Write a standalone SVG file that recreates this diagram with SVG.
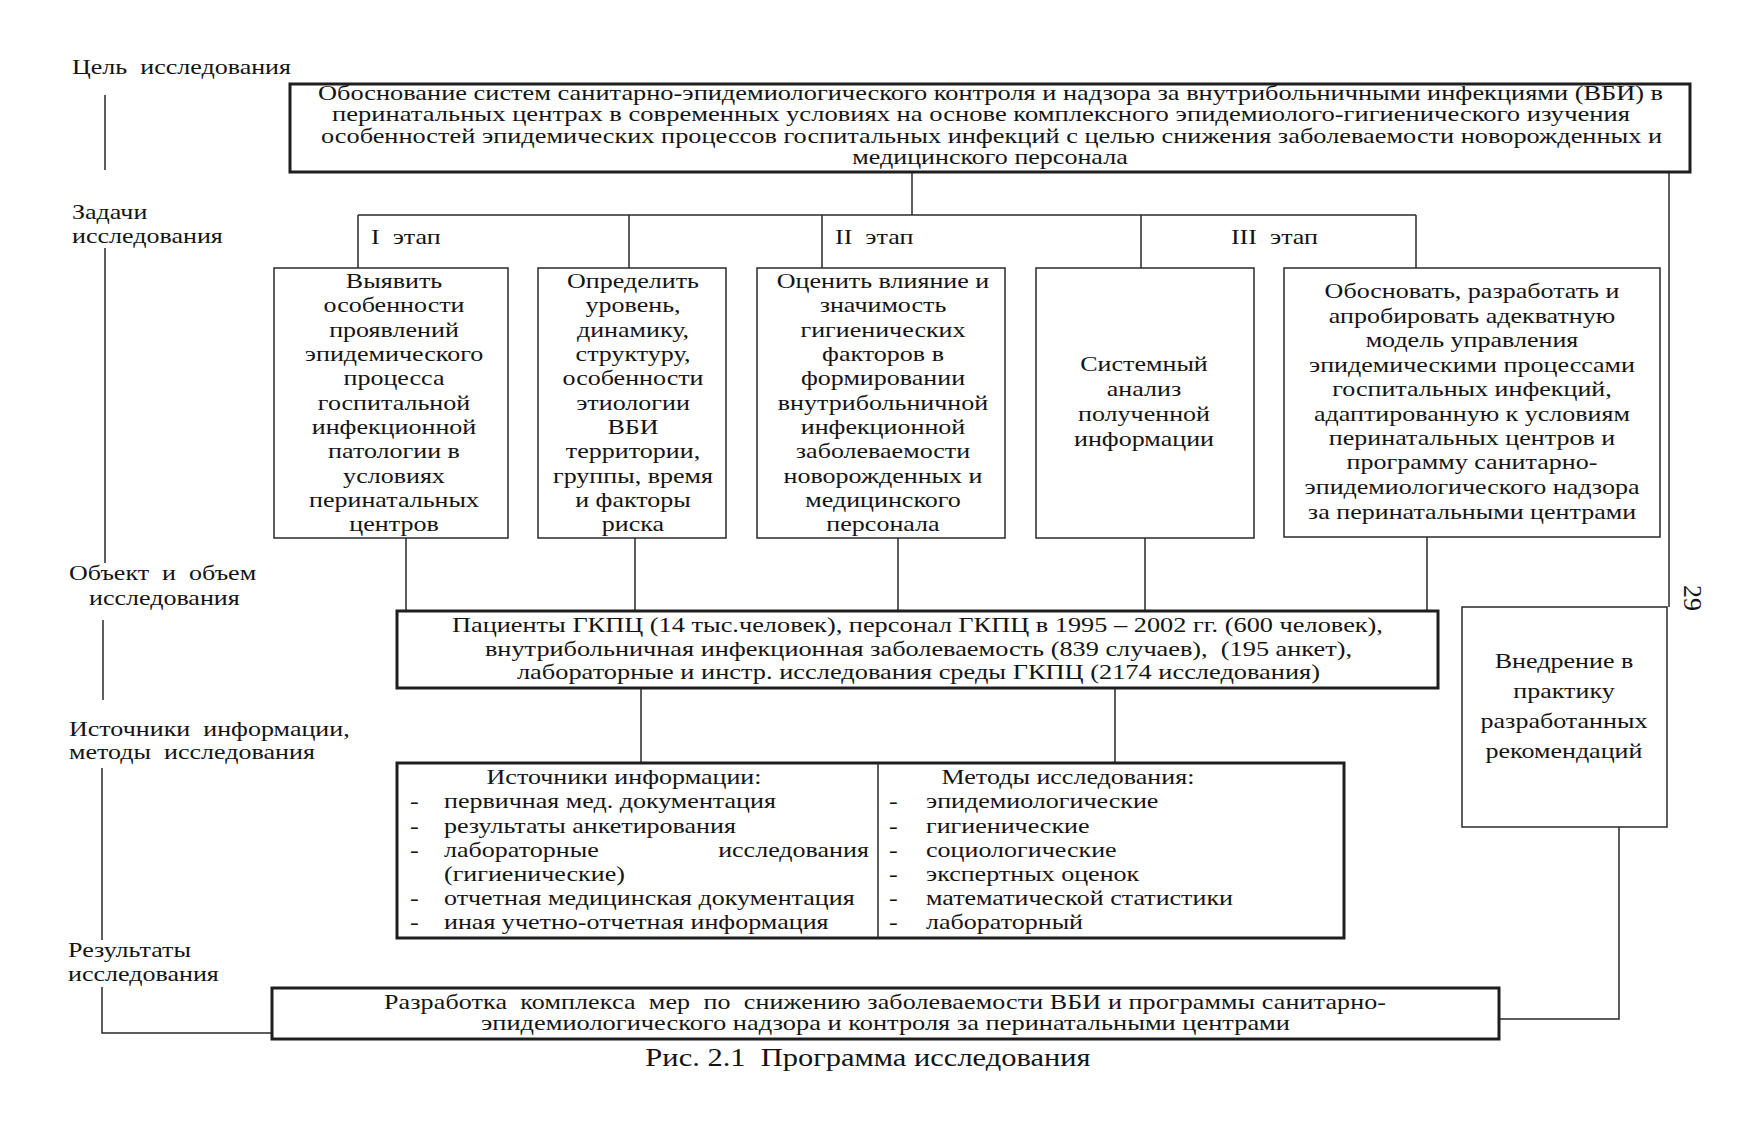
<svg xmlns="http://www.w3.org/2000/svg" width="1739" height="1125" viewBox="0 0 1739 1125">
<style>
.t{font-family:"Liberation Serif","Times New Roman",serif;font-size:21px;fill:#141414;white-space:pre}
.m{text-anchor:middle}
.e{text-anchor:end}
.thick{fill:none;stroke:#1e1e1e;stroke-width:3}
.thin{fill:none;stroke:#2a2a2a;stroke-width:1.5}
.ln{fill:none;stroke:#2a2a2a;stroke-width:1.5}
</style>
<rect width="1739" height="1125" fill="#ffffff"/>

<g id="labels">
  <g transform="translate(72,0) scale(1.24,1)">
    <text class="t" x="0" y="74">Цель  исследования</text>
    <text class="t" x="0" y="219">Задачи</text>
    <text class="t" x="0" y="243">исследования</text>
  </g>
  <g transform="translate(69,0) scale(1.24,1)">
    <text class="t" x="0" y="580">Объект  и  объем</text>
    <text class="t" x="16.1" y="605">исследования</text>
    <text class="t" x="0" y="736">Источники  информации,</text>
    <text class="t" x="0" y="759">методы  исследования</text>
    <text class="t" x="-0.8" y="957">Результаты</text>
    <text class="t" x="-0.8" y="981">исследования</text>
  </g>
  <g transform="scale(1.24,1)">
    <text class="t" x="299.2" y="244">I  этап</text>
    <text class="t" x="673.4" y="244">II  этап</text>
    <text class="t" x="992.7" y="244">III  этап</text>
  </g>
</g>

<g id="connectors">
  <path class="ln" d="M105 95V170M105 248V563M103 620V700M102 768V940M102 987V1033H272"/>
  <path class="ln" d="M912 172V215M358 215H1416M358 215V268M629 215V268M822 215V268M1141 215V268M1416 215V268"/>
  <path class="ln" d="M1669 172V607"/>
  <path class="ln" d="M406 538V612M635 538V612M898 538V612M1145 538V612M1427 537V612"/>
  <path class="ln" d="M641 688V762M1115 688V762"/>
  <path class="ln" d="M1619 827V1019H1499"/>
</g>

<g id="goal">
  <rect class="thick" x="290" y="84" width="1400" height="88"/>
  <g transform="scale(1.24,1)">
    <text class="t m" x="798.8" y="100" textLength="1084.7" lengthAdjust="spacingAndGlyphs">Обоснование систем санитарно-эпидемиологического контроля и надзора за внутрибольничными инфекциями (ВБИ) в</text>
    <text class="t m" x="791.1" y="121" textLength="1046.8" lengthAdjust="spacingAndGlyphs">перинатальных центрах в современных условиях на основе комплексного эпидемиолого-гигиенического изучения</text>
    <text class="t m" x="799.6" y="143" textLength="1081.5" lengthAdjust="spacingAndGlyphs">особенностей эпидемических процессов госпитальных инфекций с целью снижения заболеваемости новорожденных и</text>
    <text class="t m" x="798.4" y="164">медицинского персонала</text>
  </g>
</g>

<g id="task1">
  <rect class="thin" x="274" y="268" width="234" height="270"/>
  <g transform="translate(394,0) scale(1.24,1)">
    <text class="t m" x="0" y="288">Выявить</text>
    <text class="t m" x="0" y="312">особенности</text>
    <text class="t m" x="0" y="337">проявлений</text>
    <text class="t m" x="0" y="361">эпидемического</text>
    <text class="t m" x="0" y="385">процесса</text>
    <text class="t m" x="0" y="410">госпитальной</text>
    <text class="t m" x="0" y="434">инфекционной</text>
    <text class="t m" x="0" y="458">патологии в</text>
    <text class="t m" x="0" y="483">условиях</text>
    <text class="t m" x="0" y="507">перинатальных</text>
    <text class="t m" x="0" y="531">центров</text>
  </g>
</g>

<g id="task2">
  <rect class="thin" x="538" y="268" width="188" height="270"/>
  <g transform="translate(633,0) scale(1.24,1)">
    <text class="t m" x="0" y="288">Определить</text>
    <text class="t m" x="0" y="312">уровень,</text>
    <text class="t m" x="0" y="337">динамику,</text>
    <text class="t m" x="0" y="361">структуру,</text>
    <text class="t m" x="0" y="385">особенности</text>
    <text class="t m" x="0" y="410">этиологии</text>
    <text class="t m" x="0" y="434">ВБИ</text>
    <text class="t m" x="0" y="458">территории,</text>
    <text class="t m" x="0" y="483">группы, время</text>
    <text class="t m" x="0" y="507">и факторы</text>
    <text class="t m" x="0" y="531">риска</text>
  </g>
</g>

<g id="task3">
  <rect class="thin" x="757" y="268" width="248" height="270"/>
  <g transform="translate(883,0) scale(1.24,1)">
    <text class="t m" x="0" y="288">Оценить влияние и</text>
    <text class="t m" x="0" y="312">значимость</text>
    <text class="t m" x="0" y="337">гигиенических</text>
    <text class="t m" x="0" y="361">факторов в</text>
    <text class="t m" x="0" y="385">формировании</text>
    <text class="t m" x="0" y="410">внутрибольничной</text>
    <text class="t m" x="0" y="434">инфекционной</text>
    <text class="t m" x="0" y="458">заболеваемости</text>
    <text class="t m" x="0" y="483">новорожденных и</text>
    <text class="t m" x="0" y="507">медицинского</text>
    <text class="t m" x="0" y="531">персонала</text>
  </g>
</g>

<g id="task4">
  <rect class="thin" x="1036" y="268" width="218" height="270"/>
  <g transform="translate(1144,0) scale(1.24,1)">
    <text class="t m" x="0" y="371">Системный</text>
    <text class="t m" x="0" y="396">анализ</text>
    <text class="t m" x="0" y="421">полученной</text>
    <text class="t m" x="0" y="446">информации</text>
  </g>
</g>

<g id="task5">
  <rect class="thin" x="1284" y="268" width="376" height="269"/>
  <g transform="translate(1472,0) scale(1.24,1)">
    <text class="t m" x="0" y="298">Обосновать, разработать и</text>
    <text class="t m" x="0" y="323">апробировать адекватную</text>
    <text class="t m" x="0" y="347">модель управления</text>
    <text class="t m" x="0" y="372">эпидемическими процессами</text>
    <text class="t m" x="0" y="396">госпитальных инфекций,</text>
    <text class="t m" x="0" y="421">адаптированную к условиям</text>
    <text class="t m" x="0" y="445">перинатальных центров и</text>
    <text class="t m" x="0" y="469">программу санитарно-</text>
    <text class="t m" x="0" y="494">эпидемиологического надзора</text>
    <text class="t m" x="0" y="519">за перинатальными центрами</text>
  </g>
</g>

<g id="object">
  <rect class="thick" x="397" y="611" width="1041" height="77"/>
  <g transform="scale(1.24,1)">
    <text class="t m" x="739.9" y="632" textLength="750.8" lengthAdjust="spacingAndGlyphs">Пациенты ГКПЦ (14 тыс.человек), персонал ГКПЦ в 1995 – 2002 гг. (600 человек),</text>
    <text class="t m" x="740.7" y="656" textLength="699.2" lengthAdjust="spacingAndGlyphs">внутрибольничная инфекционная заболеваемость (839 случаев),  (195 анкет),</text>
    <text class="t m" x="740.7" y="679" textLength="647.6" lengthAdjust="spacingAndGlyphs">лабораторные и инстр. исследования среды ГКПЦ (2174 исследования)</text>
  </g>
</g>

<g id="sources-methods">
  <rect class="thick" x="397" y="763" width="947" height="175"/>
  <line class="ln" x1="878" y1="763" x2="878" y2="938" stroke-width="2"/>
  <g transform="translate(397,0) scale(1.24,1)">
    <text class="t m" x="183.1" y="784">Источники информации:</text>
    <text class="t" x="10.5" y="808">-</text><text class="t" x="37.9" y="808">первичная мед. документация</text>
    <text class="t" x="10.5" y="833">-</text><text class="t" x="37.9" y="833">результаты анкетирования</text>
    <text class="t" x="10.5" y="857">-</text><text class="t" x="37.9" y="857">лабораторные</text><text class="t e" x="380.6" y="857">исследования</text>
    <text class="t" x="37.9" y="881">(гигиенические)</text>
    <text class="t" x="10.5" y="905">-</text><text class="t" x="37.9" y="905">отчетная медицинская документация</text>
    <text class="t" x="10.5" y="929">-</text><text class="t" x="37.9" y="929">иная учетно-отчетная информация</text>
  </g>
  <g transform="translate(878,0) scale(1.24,1)">
    <text class="t m" x="153.2" y="784">Методы исследования:</text>
    <text class="t" x="8.9" y="808">-</text><text class="t" x="38.7" y="808">эпидемиологические</text>
    <text class="t" x="8.9" y="833">-</text><text class="t" x="38.7" y="833">гигиенические</text>
    <text class="t" x="8.9" y="857">-</text><text class="t" x="38.7" y="857">социологические</text>
    <text class="t" x="8.9" y="881">-</text><text class="t" x="38.7" y="881">экспертных оценок</text>
    <text class="t" x="8.9" y="905">-</text><text class="t" x="38.7" y="905">математической статистики</text>
    <text class="t" x="8.9" y="929">-</text><text class="t" x="38.7" y="929">лабораторный</text>
  </g>
</g>

<g id="implementation">
  <rect class="thin" x="1462" y="607" width="205" height="220"/>
  <g transform="translate(1564,0) scale(1.24,1)">
    <text class="t m" x="0" y="668">Внедрение в</text>
    <text class="t m" x="0" y="698">практику</text>
    <text class="t m" x="0" y="728">разработанных</text>
    <text class="t m" x="0" y="758">рекомендаций</text>
  </g>
</g>

<g id="results">
  <rect class="thick" x="272" y="988" width="1227" height="51"/>
  <g transform="scale(1.24,1)">
    <text class="t m" x="713.7" y="1009" textLength="808.1" lengthAdjust="spacing">Разработка  комплекса  мер  по  снижению заболеваемости ВБИ и программы санитарно-</text>
    <text class="t m" x="714.1" y="1030" textLength="652.4" lengthAdjust="spacingAndGlyphs">эпидемиологического надзора и контроля за перинатальными центрами</text>
  </g>
</g>

<g id="caption">
  <g transform="translate(868,0) scale(1.24,1)">
    <text class="t m" x="0" y="1066" style="font-size:24.6px">Рис. 2.1  Программа исследования</text>
  </g>
  <text class="t m" transform="translate(1684,598) rotate(90)" style="font-size:26px">29</text>
</g>
</svg>
